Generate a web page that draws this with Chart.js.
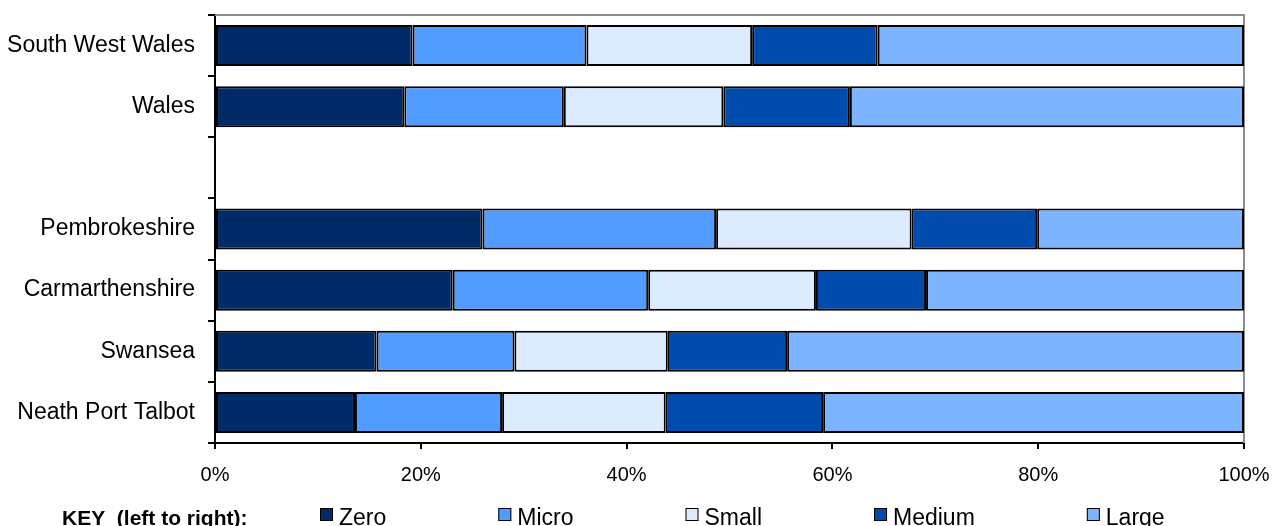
<!DOCTYPE html>
<html>
<head>
<meta charset="utf-8">
<script src="https://cdn.jsdelivr.net/npm/chart.js@4/dist/chart.umd.min.js"></script>
<style>
  body { margin: 0; background: #fff; }
  #wrap { width: 1276px; height: 526px; position: relative; }
</style>
</head>
<body>
<div id="wrap"><canvas id="chart"></canvas></div>
<script>
// ============================== DATA

const categories = ['South West Wales', 'Wales', '', 'Pembrokeshire', 'Carmarthenshire', 'Swansea', 'Neath Port Talbot'];
const seriesNames = ['Zero', 'Micro', 'Small', 'Medium', 'Large'];
const zero   = [19.2, 18.4, null, 26.0, 23.1, 15.7, 13.6];
const micro  = [16.9, 15.5, null, 22.7, 19.0, 13.4, 14.3];
const small  = [16.1, 15.5, null, 19.0, 16.3, 14.9, 15.9];
const medium = [12.2, 12.3, null, 12.2, 10.7, 11.6, 15.3];
const large  = [35.6, 38.3, null, 20.1, 30.9, 44.4, 40.9];
const xTicks = [0, 20, 40, 60, 80, 100];

const colors = ['#002B66', '#529CFF', '#DDEBFF', '#004BAB', '#7DB4FF'];

// ============================== PLUGINS

// gray top/right outline of the plot area
const plotFrame = {
  id: 'plotFrame',
  beforeDatasetsDraw(chart) {
    const { ctx, chartArea: { left, right, top, bottom } } = chart;
    ctx.save();
    ctx.strokeStyle = '#8c8c8c';
    ctx.lineWidth = 2;
    ctx.beginPath();
    ctx.moveTo(left, top);
    ctx.lineTo(right, top);
    ctx.lineTo(right, bottom);
    ctx.stroke();
    ctx.restore();
  }
};

// "KEY (left to right):" legend row at the bottom
const keyLegend = {
  id: 'keyLegend',
  afterDraw(chart) {
    const { ctx } = chart;
    const baseY = chart.height - 1;
    ctx.save();
    ctx.fillStyle = '#000';
    ctx.textBaseline = 'alphabetic';
    ctx.font = 'bold 21px "Liberation Sans", Arial, sans-serif';
    ctx.fillText('KEY  (left to right):', 62, baseY);

    ctx.font = '23px "Liberation Sans", Arial, sans-serif';
    let x = 320;
    chart.data.datasets.forEach((ds) => {
      ctx.fillStyle = ds.backgroundColor;
      ctx.fillRect(x, baseY - 17, 13, 13);
      ctx.strokeStyle = '#000';
      ctx.lineWidth = 1;
      ctx.strokeRect(x + 0.5, baseY - 16.5, 12, 12);
      ctx.fillStyle = '#000';
      ctx.fillText(ds.label, x + 19, baseY);
      x += 19 + ctx.measureText(ds.label).width + 112;
    });
    ctx.restore();
  }
};

// ============================== CHART

const seriesValues = [zero, micro, small, medium, large];

const datasets = seriesNames.map((name, i) => ({
  label: name,
  data: seriesValues[i],
  backgroundColor: colors[i],
  borderColor: '#000',
  borderWidth: 2,
  borderSkipped: false,
  barPercentage: 0.67,
  categoryPercentage: 1,
}));

new Chart(document.getElementById('chart'), {
  type: 'bar',
  data: { labels: categories, datasets: datasets },
  options: {
    indexAxis: 'y',
    responsive: true,
    maintainAspectRatio: false,
    animation: false,
    layout: { padding: { left: 0, right: 32, top: 15, bottom: 43 } },
    plugins: {
      legend: { display: false },
      tooltip: { enabled: false },
    },
    scales: {
      x: {
        stacked: true,
        min: 0,
        max: 100,
        afterBuildTicks: (scale) => { scale.ticks = xTicks.map(v => ({ value: v })); },
        afterFit: (scale) => {
          scale.height = 40;
          scale.paddingLeft = 0;
          scale.paddingRight = 0;
        },
        border: { color: '#000', width: 2 },
        grid: { drawOnChartArea: false, color: '#000', lineWidth: 2, tickLength: 6 },
        ticks: {
          color: '#000',
          padding: 14,
          maxRotation: 0,
          font: { family: '"Liberation Sans", Arial, sans-serif', size: 20 },
          callback: (v) => v + '%',
        },
      },
      y: {
        stacked: true,
        afterFit: (scale) => {
          scale.width = 215;
          scale.paddingTop = 0;
          scale.paddingBottom = 0;
        },
        border: { color: '#000', width: 2 },
        grid: { drawOnChartArea: false, color: '#000', lineWidth: 2, tickLength: 7, offset: true },
        ticks: {
          color: '#000',
          padding: 13,
          font: { family: '"Liberation Sans", Arial, sans-serif', size: 23 },
        },
      },
    },
  },
  plugins: [plotFrame, keyLegend],
});
</script>
</body>
</html>
